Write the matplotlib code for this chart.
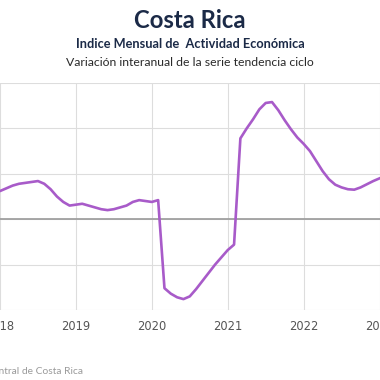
import matplotlib.pyplot as plt
import numpy as np

# IMAE Costa Rica, variacion interanual de la tendencia ciclo (mensual, desde ene-2018)
start_year = 2018
values = [
    3.1, 3.4, 3.7, 3.9, 4.0, 4.1, 4.2, 3.9, 3.3, 2.5, 1.9, 1.5,   # 2018
    1.6, 1.7, 1.5, 1.3, 1.1, 1.0, 1.1, 1.3, 1.5, 1.9, 2.1, 2.0,   # 2019
    1.9, 2.1, -7.6, -8.2, -8.6, -8.8, -8.5, -7.7, -6.8, -5.9, -5.0, -4.2,   # 2020
    -3.4, -2.8, 8.9, 10.0, 11.0, 12.1, 12.8, 12.9, 12.0, 10.9, 9.9, 9.0,   # 2021
    8.3, 7.5, 6.4, 5.3, 4.4, 3.8, 3.5, 3.3, 3.25, 3.5, 3.85, 4.2,   # 2022
    4.5, 4.8,   # 2023
]
year_ticks = [2018, 2019, 2020, 2021, 2022, 2023]

x = start_year + np.arange(len(values)) / 12

fig = plt.figure(figsize=(3.8, 3.8), dpi=100)
ax = fig.add_axes([0, 70 / 380, 1, 227 / 380])

ax.plot(x, values, color='#a85bc9', lw=1.9, solid_capstyle='round', solid_joinstyle='round')
ax.axhline(0, color='#a0a0a0', lw=1.3, zorder=1)

ax.set_xlim(2018.026, 2023.006)
ax.set_ylim(-10, 15)
ax.set_xticks(year_ticks)
ax.set_xticklabels([str(y) for y in year_ticks])
ax.set_yticks([-10, -5, 0, 5, 10, 15])
ax.tick_params(axis='y', left=False, labelleft=False)
ax.tick_params(axis='x', length=0, pad=7, labelsize=8.3, labelcolor='#555555')
ax.grid(True, color='#dddddd', lw=0.8)
ax.set_axisbelow(True)
for s in ax.spines.values():
    s.set_visible(False)

navy = '#1b2a47'
fig.text(0.5, 1 - 20 / 380, 'Costa Rica', ha='center', va='center',
         fontsize=17.2, fontweight='bold', color=navy, family='Lato')
fig.text(0.5, 1 - 44 / 380, 'Indice Mensual de  Actividad Económica', ha='center', va='center',
         fontsize=9.2, fontweight='bold', color=navy, family='Lato')
fig.text(0.5, 1 - 63 / 380, 'Variación interanual de la serie tendencia ciclo', ha='center',
         va='center', fontsize=8.8, color='#2a2a2a', family='Lato')
fig.text(83 / 380, 1 - 372 / 380, 'Fuente: Banco Central de Costa Rica', ha='right', va='center',
         fontsize=7.4, color='#9a9a9a', family='Lato')

fig.savefig('out.png', dpi=100)
